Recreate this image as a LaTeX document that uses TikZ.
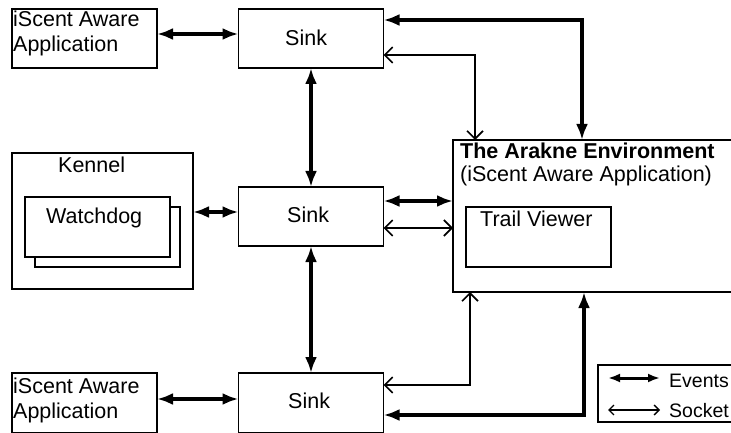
\documentclass[tikz,border=0pt]{standalone}
\usepackage{fontspec}
\setmainfont{Liberation Sans}
\usetikzlibrary{arrows.meta,calc}
\begin{document}
\begin{tikzpicture}[x=1pt,y=-1pt,
  box/.style={draw, line width=1.4pt, inner sep=0pt, outer sep=0pt, rectangle},
  txt/.style={inner sep=0pt, anchor=base west, font=\fontsize{21.5}{25}\selectfont},
  ltxt/.style={inner sep=0pt, anchor=base west, font=\fontsize{19.5}{23}\selectfont},
  ev/.style={line width=3.4pt, {Latex[length=16pt,width=12pt]}-{Latex[length=16pt,width=12pt]}},
  sk/.style={line width=1.6pt, {Straight Barb[length=8pt,width=16pt]}-{Straight Barb[length=8pt,width=16pt]}},
  evs/.style={line width=3pt, {Latex[length=12pt,width=9pt]}-{Latex[length=12pt,width=9pt]}},
  sks/.style={line width=1.3pt, {Straight Barb[length=5pt,width=10pt]}-{Straight Barb[length=5pt,width=10pt]}},
]
\useasboundingbox (0,0) rectangle (731,433);
\clip (0,0) rectangle (731,433);

% boxes
\node[box, minimum width=145pt, minimum height=59pt] (app1) at (84.5,38.5) {};
\node[box, minimum width=145pt, minimum height=59pt] (sink1) at (311,38.5) {};
\node[box, minimum width=181pt, minimum height=136pt] (kennel) at (102.5,221) {};
\node[box, minimum width=145pt, minimum height=60pt] (wdb) at (107.5,237) {};
\node[box, fill=white, minimum width=145pt, minimum height=60pt] (wdf) at (97.5,227) {};
\node[box, minimum width=145pt, minimum height=59pt] (sink2) at (311,216.5) {};
\node[box, minimum width=320pt, minimum height=152pt] (arakne) at (613,216) {};
\node[box, minimum width=145pt, minimum height=60pt] (trail) at (538.5,237) {};
\node[box, minimum width=145pt, minimum height=60pt] (sink3) at (311,403) {};
\node[box, minimum width=145pt, minimum height=60pt] (app3) at (84.5,403) {};
\node[box, minimum width=170pt, minimum height=57pt] (legend) at (683,393.5) {};

% texts
\node[txt] (t1a) at (13,27) {iScent Aware};
\node[txt] (t1b) at (13,52) {Application};
\node[txt] (t2) at (285,46) {Sink};
\node[txt] (t3) at (58,172) {Kennel};
\node[txt] (t4) at (46,223) {Watchdog};
\node[txt] (t5) at (287,222) {Sink};
\node[txt] (t6a) at (460,158) {\bfseries The Arakne Environment};
\node[txt] (t6b) at (460,182) {(iScent Aware Application)};
\node[txt] (t7) at (480,226) {Trail Viewer};
\node[txt] (t8) at (288,408) {Sink};
\node[txt] (t9a) at (13,393) {iScent Aware};
\node[txt] (t9b) at (13,418) {Application};
\node[ltxt] (t10) at (669,387) {Events};
\node[ltxt] (t11) at (669,417) {Socket};

% connectors
\draw[ev] ([yshift=4.5pt]app1.east) -- ([yshift=4.5pt]sink1.west);
\draw[ev] (sink1.south) -- (sink1.south |- sink2.north);
\coordinate (k) at ([yshift=4.5pt]sink2.west);
\draw[ev] (k -| kennel.east) -- (k);
\coordinate (a1) at ($(arakne.north west)+(129,0)$);
\coordinate (a2) at ($(arakne.north west)+(22,0)$);
\draw[ev] ([yshift=18.5pt]sink1.east) -| (a1);
\draw[sk] ([yshift=-16.5pt]sink1.east) -| (a2);
\coordinate (m1) at ([yshift=15.5pt]sink2.east);
\draw[ev] (m1) -- (m1 -| arakne.west);
\coordinate (m2) at ([yshift=-11.5pt]sink2.east);
\draw[sk] (m2) -- (m2 -| arakne.west);
\draw[ev] (sink2.south) -- (sink2.south |- sink3.north);
\coordinate (b1) at ([yshift=-12pt]sink3.north east);
\coordinate (a3) at ($(arakne.south west)+(17,0)$);
\draw[sk] (b1) -| (a3);
\coordinate (b2) at ([yshift=-42pt]sink3.north east);
\coordinate (a4) at ($(arakne.south west)+(131,0)$);
\draw[ev] (b2) -| (a4);
\coordinate (b3) at ([yshift=-26pt]app3.north east);
\draw[ev] (b3) -- (b3 -| sink3.west);

% legend
\coordinate (l1) at ([xshift=10pt,yshift=-13pt]legend.north west);
\coordinate (l1e) at ([xshift=62pt,yshift=-13pt]legend.north west);
\draw[evs] (l1) -- (l1e);
\coordinate (l2) at ([xshift=10pt,yshift=-45pt]legend.north west);
\coordinate (l2e) at ([xshift=62pt,yshift=-45pt]legend.north west);
\draw[sks] (l2) -- (l2e);
\end{tikzpicture}
\end{document}
